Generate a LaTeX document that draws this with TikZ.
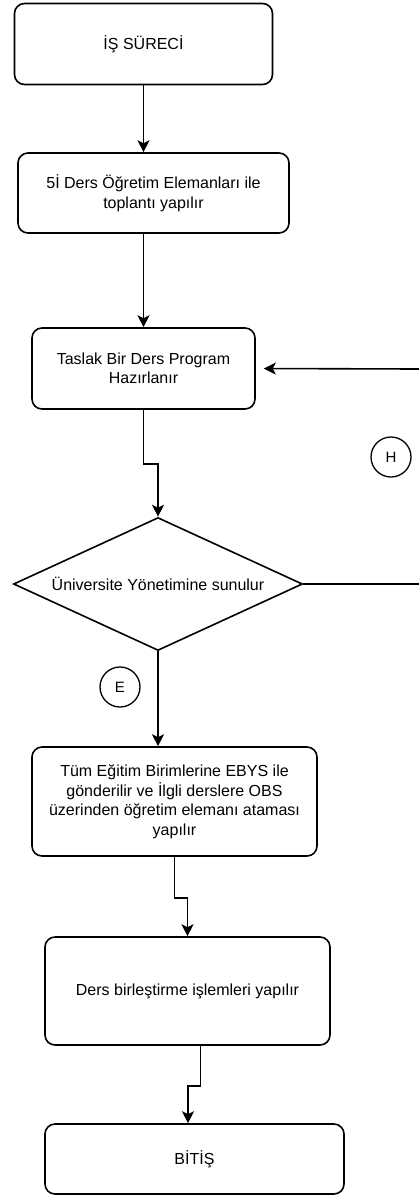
\documentclass[tikz,border=0pt]{standalone}
\usepackage{fontspec}
\setmainfont{Liberation Sans}
\usepackage{tikz}
\usetikzlibrary{arrows.meta, shapes.geometric}

\begin{document}
\begin{tikzpicture}[x=1pt,y=-1pt,line width=1.6pt,>={Stealth[length=12pt,width=12pt,inset=3pt]}]
\useasboundingbox (0,0) rectangle (419,1195);
%\tikzstyle{box}=[draw,rounded corners=10pt,align=center]
\begin{scope}[every node/.style={draw,rounded corners=10pt,align=center,inner sep=0pt,font=\fontsize{16}{19.5}\selectfont}]
    \node[minimum width=258pt,minimum height=81pt] (a) at (143.5,44) {İŞ SÜRECİ};
    \node[minimum width=271pt,minimum height=80pt] (b) at (153.5,193) {5İ Ders Öğretim Elemanları ile\\toplantı yapılır};
    \node[minimum width=223pt,minimum height=81pt] (c) at (143.5,368.5) {Taslak Bir Ders Program\\Hazırlanır};
    \node[diamond,sharp corners,aspect=2.17,minimum width=289pt,minimum height=133pt] (d) at (158,584) {Üniversite Yönetimine sunulur};
    \node[minimum width=285pt,minimum height=109pt] (e) at (174.5,801.5) {Tüm Eğitim Birimlerine EBYS ile\\gönderilir ve İlgli derslere OBS\\üzerinden öğretim elemanı ataması\\yapılır};
    \node[minimum width=285pt,minimum height=108pt] (f) at (187.5,991) {Ders birleştirme işlemleri yapılır};
    \node[minimum width=299pt,minimum height=70pt] (g) at (194.5,1159) {BİTİŞ};
    \node[circle,line width=1.3pt,minimum size=40pt,font=\fontsize{15}{17}\selectfont] (ch) at (391,457) {H};
    \node[circle,line width=1.3pt,minimum size=40pt,font=\fontsize{15}{17}\selectfont] (ce) at (120,687) {E};
\end{scope}
\coordinate (r1) at (419,584);
\coordinate (r2) at (419,369);

\draw[->] (a.south) -- (a.south |- b.north);
\draw[->] (b.south -| c.north) -- (c.north);
\draw[->] (c.south) -- ++(0,54) -| (d.north);
\draw (d.east) -- (r1);
\draw[->,shorten >=8pt] (r2) -- (c.east);
\draw[->] (d.south) -- (d.south |- e.north);
\draw[->] (e.south) -- ++(0,41) -| (f.north);
\draw[->] ([xshift=13pt]f.south) -- ++(0,40) -| ([xshift=-6.5pt]g.north);
\end{tikzpicture}
\end{document}
